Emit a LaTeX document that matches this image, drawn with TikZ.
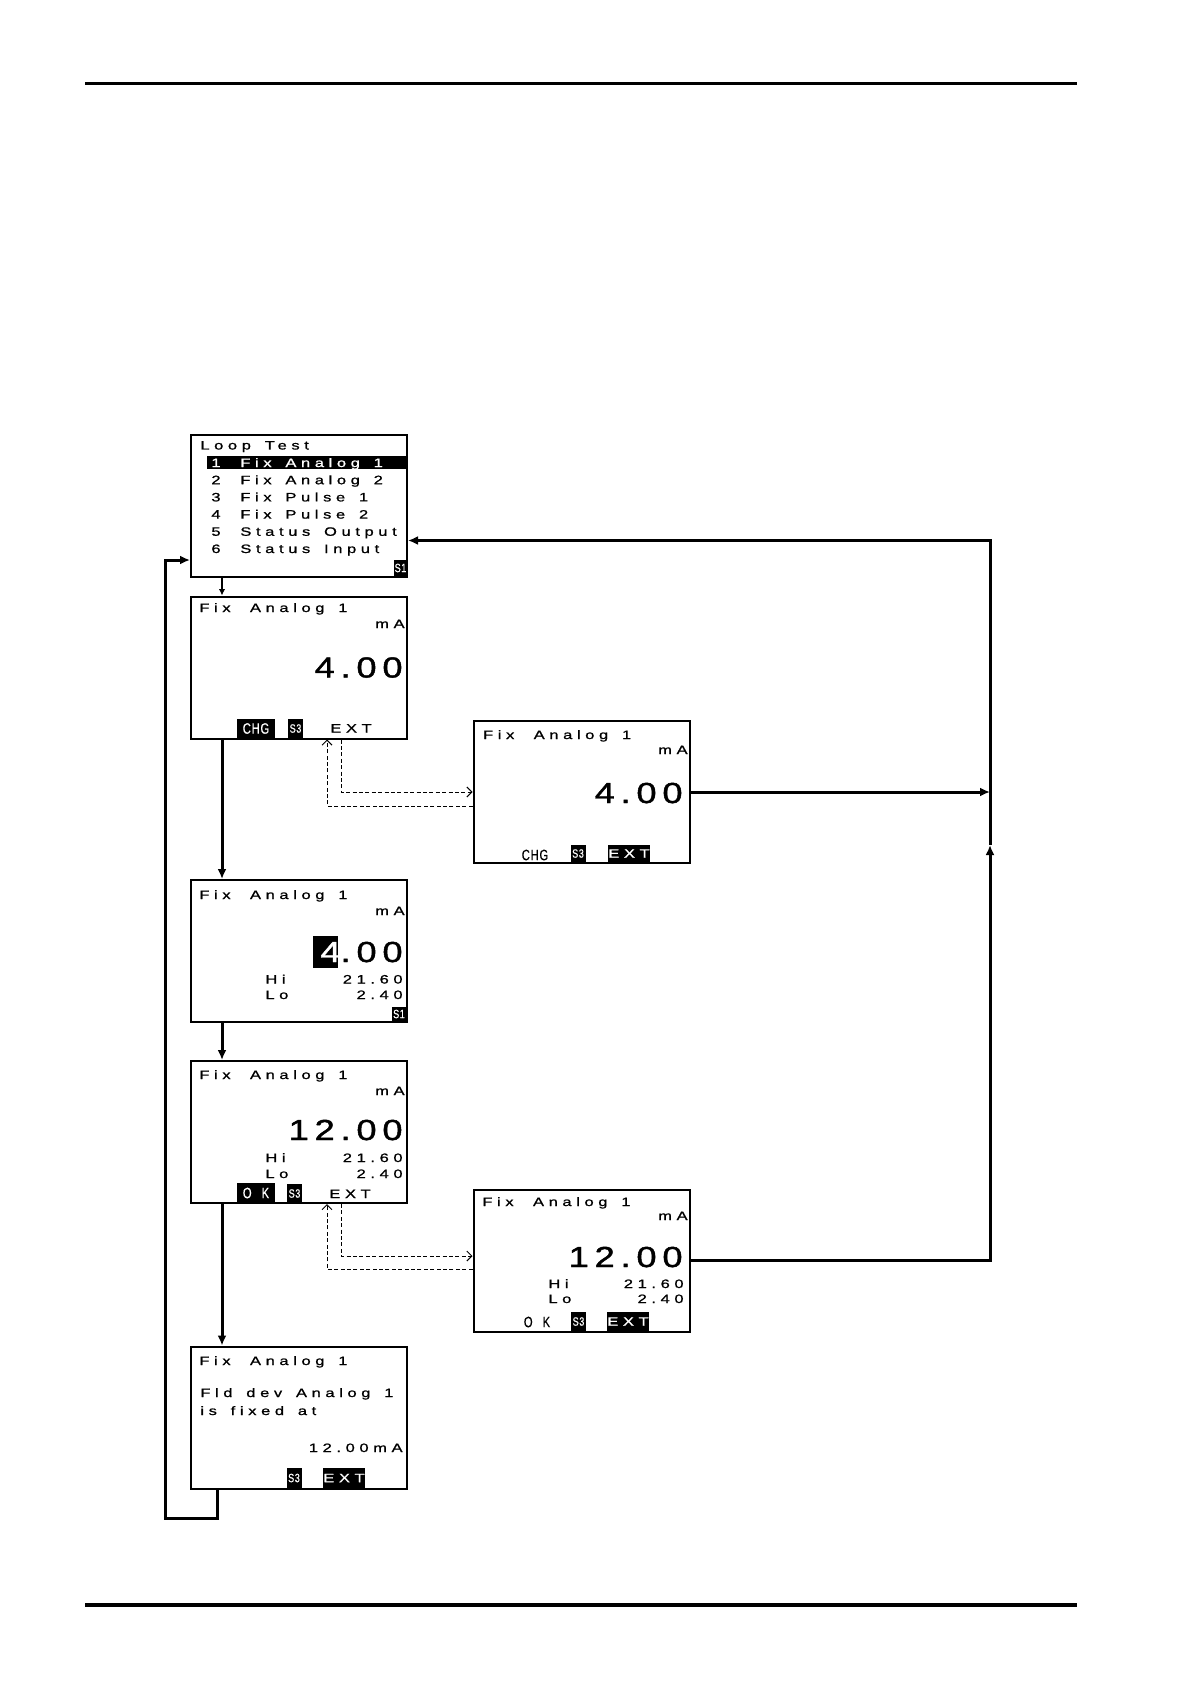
\documentclass[tikz,border=0pt]{standalone}
\usepackage{fontspec}
\setmainfont{Liberation Sans}
\newfontfamily\lcdfont[FakeStretch=1.35,LetterSpace=38,WordSpace=1.5,FakeBold=1]{Liberation Sans}
\newfontfamily\lcdbigfont[FakeStretch=1.25,LetterSpace=20,FakeBold=1.5]{Liberation Sans}
\newfontfamily\keyfont[FakeStretch=0.75,LetterSpace=5,FakeBold=0.5]{Liberation Sans}
\usetikzlibrary{arrows.meta,positioning,calc}

\begin{document}
\begin{tikzpicture}[x=0.5pt,y=-0.5pt,
	screen/.style={draw,line width=1pt,minimum width=108pt,minimum height=71pt,inner sep=0pt},
	lcd/.style={font=\lcdfont\fontsize{6.1}{7}\selectfont,inner sep=0pt,anchor=base west},
	lcdr/.style={lcd,anchor=base east},
	lcdbig/.style={font=\lcdbigfont\fontsize{14.5}{16}\selectfont,inner sep=0pt,anchor=base east},
	skey/.style={fill=black,text=white,inner sep=0pt,minimum width=7.5pt,minimum height=9pt,font=\keyfont\fontsize{6}{7}\selectfont},
	wkey/.style={fill=black,text=white,inner sep=0pt,minimum width=19pt,minimum height=9.5pt,font=\keyfont\fontsize{7.5}{8}\selectfont},
	keytext/.style={inner sep=0pt,font=\keyfont\fontsize{7.5}{8}\selectfont},
	flow/.style={line width=1.5pt,-{Latex[length=5pt,width=4.5pt]}},
	flowthin/.style={line width=0.6pt,-{Latex[length=3.2pt,width=3.2pt]}},
	dashflow/.style={line width=0.5pt,dash pattern=on 2pt off 1.2pt,-{Straight Barb[length=2.5pt,width=5pt]}}]
	\useasboundingbox (0,0) rectangle (1191,1684);
	
	% page rules
	\draw[line width=1.65pt] (85,83.3) -- (1077,83.3);
	\draw[line width=1.65pt] (85,1605) -- (1077,1605);
	
	% Screen 1: loop test menu
	\node[screen] (s1) at (299,506) {};
	\node[lcd] (s1-head) at (200,449.5) {Loop Test};
	\fill (207,456) rectangle (407,469);
	\node[lcd,text=white] (s1-r1) at (211,467) {\makebox[14.5pt][l]{1}Fix Analog 1};
	\node[lcd] (s1-r2) at (211,484.2) {\makebox[14.5pt][l]{2}Fix Analog 2};
	\node[lcd] (s1-r3) at (211,501.4) {\makebox[14.5pt][l]{3}Fix Pulse 1};
	\node[lcd] (s1-r4) at (211,518.6) {\makebox[14.5pt][l]{4}Fix Pulse 2};
	\node[lcd] (s1-r5) at (211,535.8) {\makebox[14.5pt][l]{5}Status Output};
	\node[lcd] (s1-r6) at (211,553) {\makebox[14.5pt][l]{6}Status Input};
	\node[skey,minimum width=6.5pt,minimum height=8pt] (s1-key) at (400.5,568) {S1};
	
	% Screen 2: fixed output 4.00
	\node[screen] (s2) at (299,667.5) {};
	\node[lcd] (s2-head) at (199,612) {Fix\hspace{2.8pt} Analog 1};
	\node[lcdr] (s2-unit) at (405,628) {mA};
	\node[lcdbig] (s2-val) at (403,677.5) {4.00};
	\node[wkey] (s2-chg) at (256,728.5) {CHG};
	\node[skey,minimum height=9.5pt] (s2-s3) at (295.5,728.5) {S3};
	\node[lcd] (s2-ext) at (330,732.5) {EXT};
	
	% Screen 3: EXT selected
	\node[screen] (s3) at (581.5,792) {};
	\node[lcd] (s3-head) at (482.7,739) {Fix\hspace{2.8pt} Analog 1};
	\node[lcdr] (s3-unit) at (688,754) {mA};
	\node[lcdbig] (s3-val) at (683,803) {4.00};
	\node[keytext] (s3-chg) at (535,855) {CHG};
	\node[skey,minimum height=8.5pt] (s3-s3) at (578,853.5) {S3};
	\node[wkey,minimum width=20pt,minimum height=8.5pt,font=\lcdfont\fontsize{6.1}{7}\selectfont] (s3-ext) at (629,853.5) {EXT};
	
	% Screen 4: edit value
	\node[screen] (s4) at (299,951) {};
	\node[lcd] (s4-head) at (199,899) {Fix\hspace{2.8pt} Analog 1};
	\node[lcdr] (s4-unit) at (405,915) {mA};
	\fill (313,936) rectangle (338,968);
	\node[lcdbig] (s4-val) at (403,962) {\textcolor{white}{4}.00};
	\node[lcd] (s4-hi) at (265,983.5) {Hi};
	\node[lcdr] (s4-hiv) at (403,983.5) {21.60};
	\node[lcd] (s4-lo) at (265,999) {Lo};
	\node[lcdr] (s4-lov) at (403,999) {2.40};
	\node[skey,minimum width=7pt,minimum height=7pt] (s4-key) at (399,1014) {S1};
	
	% Screen 5: new value 12.00
	\node[screen] (s5) at (299,1132) {};
	\node[lcd] (s5-head) at (199,1079) {Fix\hspace{2.8pt} Analog 1};
	\node[lcdr] (s5-unit) at (405,1095) {mA};
	\node[lcdbig] (s5-val) at (403,1140) {12.00};
	\node[lcd] (s5-hi) at (265,1162) {Hi};
	\node[lcdr] (s5-hiv) at (403,1162) {21.60};
	\node[lcd] (s5-lo) at (265,1178) {Lo};
	\node[lcdr] (s5-lov) at (403,1178) {2.40};
	\node[wkey,minimum height=10pt] (s5-ok) at (256,1193) {O\hspace{5pt}K};
	\node[skey,minimum height=9.5pt] (s5-s3) at (294.5,1193.5) {S3};
	\node[lcd] (s5-ext) at (329,1198) {EXT};
	
	% Screen 6: EXT selected
	\node[screen] (s6) at (581.5,1260.5) {};
	\node[lcd] (s6-head) at (482,1206) {Fix\hspace{2.8pt} Analog 1};
	\node[lcdr] (s6-unit) at (688,1220) {mA};
	\node[lcdbig] (s6-val) at (683,1267) {12.00};
	\node[lcd] (s6-hi) at (548,1288) {Hi};
	\node[lcdr] (s6-hiv) at (684,1288) {21.60};
	\node[lcd] (s6-lo) at (548,1303) {Lo};
	\node[lcdr] (s6-lov) at (684,1303) {2.40};
	\node[keytext] (s6-ok) at (537,1322) {O\hspace{5pt}K};
	\node[skey,minimum height=9.5pt] (s6-s3) at (578.5,1321.5) {S3};
	\node[wkey,font=\lcdfont\fontsize{6.1}{7}\selectfont] (s6-ext) at (628,1321.5) {EXT};
	
	% Screen 7: confirmation
	\node[screen] (s7) at (299,1417.5) {};
	\node[lcd] (s7-head) at (199,1365) {Fix\hspace{2.8pt} Analog 1};
	\node[lcd] (s7-l1) at (200,1397) {Fld dev Analog 1};
	\node[lcd] (s7-l2) at (200,1415) {is fixed at};
	\node[lcdr] (s7-val) at (403,1452) {12.00mA};
	\node[skey,minimum height=10pt] (s7-s3) at (294,1478) {S3};
	\node[wkey,minimum height=10pt,font=\lcdfont\fontsize{6.1}{7}\selectfont] (s7-ext) at (344,1478) {EXT};
	
	% main flow
	\draw[flowthin] ([xshift=-38.5pt]s1.south) -- ([xshift=-38.5pt]s2.north);
	\draw[flow] ([xshift=-38.5pt]s2.south) -- ([xshift=-38.5pt]s4.north);
	\draw[flow] ([xshift=-38.5pt]s4.south) -- ([xshift=-38.5pt]s5.north);
	\draw[flow] ([xshift=-38.5pt]s5.south) -- ([xshift=-38.5pt]s7.north);
	
	% back to the menu
	\coordinate (lp) at (165,1518);
	\draw[flow] ([xshift=-41pt]s7.south) |- (lp) |- ([yshift=-27pt]s1.west);
	
	% EXT branches
	\draw[dashflow] ([xshift=21pt]s2.south) |- (s3.west);
	\draw[dashflow] ([yshift=-7pt]s3.west) -| ([xshift=14pt]s2.south);
	\draw[dashflow] ([xshift=21pt]s5.south) |- ([yshift=2.25pt]s6.west);
	\draw[dashflow] ([yshift=-4.5pt]s6.west) -| ([xshift=14pt]s5.south);
	
	\coordinate (jn) at (990,792);
	\coordinate (ju) at (990,845);
	\draw[flow] (s3.east) -- (jn);
	\draw[flow] (s6.east) -| (ju);
	\draw[flow] (ju) |- ([yshift=-17.25pt]s1.east);
\end{tikzpicture}
\end{document}
